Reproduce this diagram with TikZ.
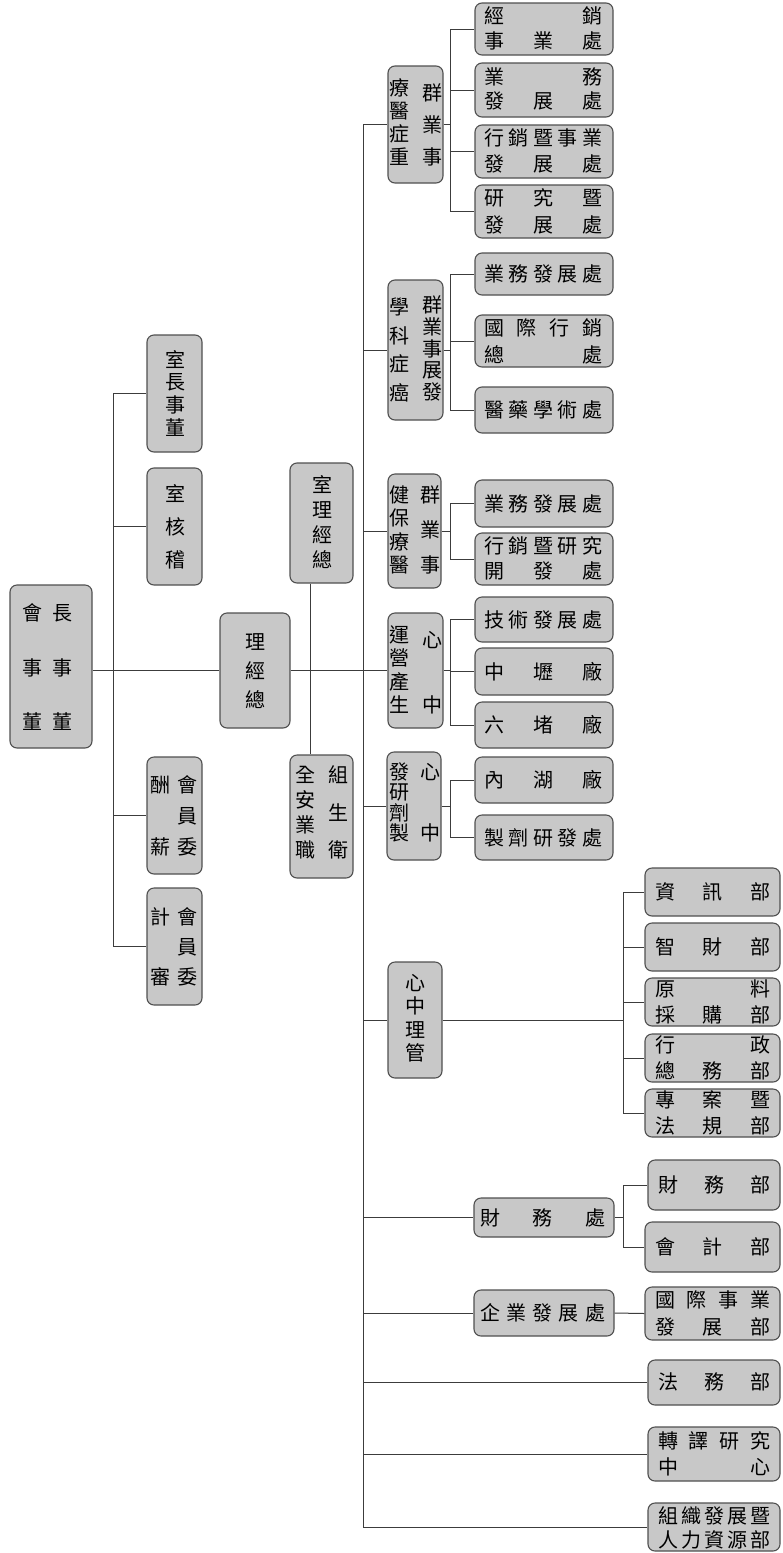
\documentclass[tikz,border=0pt]{standalone}
\usepackage{fontspec}
\newfontfamily\cjk{Noto Sans CJK TC}
\usetikzlibrary{fit,calc}
\definecolor{boxfill}{RGB}{200,200,200}
\definecolor{boxline}{RGB}{80,80,80}
\definecolor{linecol}{RGB}{60,60,60}
\tikzset{
  box/.style={draw=boxline, fill=boxfill, rounded corners=7pt, line width=1.1pt, inner sep=0pt},
  ln/.style={draw=linecol, line width=1pt},
  ch/.style={inner sep=0pt, font=\cjk\fontsize{20}{20}\selectfont, text=black},
}
\newcommand\bx[5]{\node[box, fit={(#2,#3) (#4,#5)}] (#1) {};}
\newcommand\row[7]{%
  \foreach \c [count=\i] in {#7}{%
    \pgfmathsetmacro\myt{(\i-1)/max(#6-1,1)}%
    \node[ch] (#1-\i) at ($(#2,#3)!\myt!(#4,#5)$) {\c};}}
\begin{document}
\begin{tikzpicture}[x=1pt,y=-1pt]
\fill[white] (0,0) rectangle (783,1553);
\useasboundingbox (0,0) rectangle (783,1553);

% ---------- boxes ----------
\bx{root}{10}{585}{92}{748}
\bx{dsz}{147}{335}{202}{452}
\bx{jhs}{147}{468}{202}{585}
\bx{xc}{147}{757}{202}{874}
\bx{sj}{147}{888}{202}{1005}
\bx{zjl}{220}{613}{290}{728}
\bx{zjls}{290}{463}{353}{583}
\bx{zyaq}{290}{755}{353}{878}

\bx{zz}{388}{66}{443}{183}
\bx{ax}{388}{280}{443}{420}
\bx{yl}{388}{474}{441}{588}
\bx{sc}{388}{613}{443}{728}
\bx{zj}{387}{752}{441}{860}
\bx{gl}{388}{962}{442}{1078}
\bx{cw}{474}{1198}{614}{1237}
\bx{qy}{474}{1290}{614}{1336}

\bx{zz1}{475}{3}{613}{55}
\bx{zz2}{475}{63}{613}{117}
\bx{zz3}{475}{125}{613}{178}
\bx{zz4}{475}{185}{613}{238}
\bx{ax1}{475}{253}{613}{295}
\bx{ax2}{475}{315}{613}{367}
\bx{ax3}{475}{387}{613}{433}
\bx{yl1}{475}{480}{613}{527}
\bx{yl2}{475}{533}{613}{585}
\bx{sc1}{475}{597}{613}{642}
\bx{sc2}{475}{648}{613}{695}
\bx{sc3}{475}{702}{613}{748}
\bx{zj1}{475}{757}{613}{803}
\bx{zj2}{475}{815}{613}{860}

\bx{gl1}{645}{868}{780}{916}
\bx{gl2}{645}{923}{780}{971}
\bx{gl3}{645}{978}{780}{1026}
\bx{gl4}{645}{1034}{780}{1082}
\bx{gl5}{645}{1089}{780}{1137}
\bx{cw1}{648}{1160}{780}{1210}
\bx{cw2}{645}{1222}{780}{1272}
\bx{qy1}{645}{1287}{780}{1340}
\bx{fw}{648}{1360}{780}{1405}
\bx{zy}{648}{1427}{780}{1481}
\bx{rl}{648}{1503}{780}{1551}

% ---------- texts ----------
\row{rootA}{33}{722}{33}{613}{3}{董,事,會}
\row{rootB}{62}{722}{62}{613}{3}{董,事,長}
\row{dszT}{175}{428}{175}{360}{4}{董,事,長,室}
\row{jhsT}{175}{560}{175}{494}{3}{稽,核,室}
\row{xcA}{160}{847}{160}{785}{2}{薪,酬}
\row{xcB}{187}{847}{187}{785}{3}{委,員,會}
\row{sjA}{160}{977}{160}{917}{2}{審,計}
\row{sjB}{187}{977}{187}{917}{3}{委,員,會}
\row{zjlT}{255}{700}{255}{642}{3}{總,經,理}
\row{zjlsT}{322}{560}{322}{485}{4}{總,經,理,室}
\row{zyaqA}{305}{850}{305}{775}{4}{職,業,安,全}
\row{zyaqB}{338}{850}{338}{775}{3}{衛,生,組}

\row{zzA}{399}{157}{399}{88}{4}{重,症,醫,療}
\row{zzB}{432}{157}{432}{93}{3}{事,業,群}
\row{axA}{399}{393}{399}{307}{4}{癌,症,科,學}
\row{axB}{432}{392}{432}{305}{5}{發,展,事,業,群}
\row{ylA}{399}{565}{399}{495}{4}{醫,療,保,健}
\row{ylB}{430}{565}{430}{495}{3}{事,業,群}
\row{scA}{399}{705}{399}{635}{4}{生,產,營,運}
\row{scB}{432}{705}{432}{640}{2}{中,心}
\row{zjA}{399}{833}{399}{772}{4}{製,劑,研,發}
\row{zjB}{430}{833}{430}{772}{2}{中,心}
\row{glT}{415}{1053}{415}{983}{4}{管,理,中,心}
\row{cwT}{490}{1218}{595}{1218}{3}{財,務,處}
\row{qyT}{490}{1313}{595}{1313}{5}{企,業,發,展,處}

\row{zz1a}{494}{16}{592}{16}{2}{經,銷}
\row{zz1b}{494}{41}{592}{41}{3}{事,業,處}
\row{zz2a}{494}{77}{592}{77}{2}{業,務}
\row{zz2b}{494}{101}{592}{101}{3}{發,展,處}
\row{zz3a}{494}{138}{592}{138}{5}{行,銷,暨,事,業}
\row{zz3b}{494}{164}{592}{164}{3}{發,展,處}
\row{zz4a}{494}{198}{592}{198}{3}{研,究,暨}
\row{zz4b}{494}{225}{592}{225}{3}{發,展,處}
\row{ax1T}{494}{274}{592}{274}{5}{業,務,發,展,處}
\row{ax2a}{494}{328}{592}{328}{4}{國,際,行,銷}
\row{ax2b}{494}{355}{592}{355}{2}{總,處}
\row{ax3T}{494}{410}{592}{410}{5}{醫,藥,學,術,處}
\row{yl1T}{494}{504}{592}{504}{5}{業,務,發,展,處}
\row{yl2a}{494}{546}{592}{546}{5}{行,銷,暨,研,究}
\row{yl2b}{494}{571}{592}{571}{3}{開,發,處}
\row{sc1T}{494}{620}{592}{620}{5}{技,術,發,展,處}
\row{sc2T}{494}{672}{592}{672}{3}{中,壢,廠}
\row{sc3T}{494}{725}{592}{725}{3}{六,堵,廠}
\row{zj1T}{494}{780}{592}{780}{3}{內,湖,廠}
\row{zj2T}{494}{838}{592}{838}{5}{製,劑,研,發,處}

\row{gl1T}{665}{892}{760}{892}{3}{資,訊,部}
\row{gl2T}{665}{947}{760}{947}{3}{智,財,部}
\row{gl3a}{665}{989}{760}{989}{2}{原,料}
\row{gl3b}{665}{1015}{760}{1015}{3}{採,購,部}
\row{gl4a}{665}{1045}{760}{1045}{2}{行,政}
\row{gl4b}{665}{1071}{760}{1071}{3}{總,務,部}
\row{gl5a}{665}{1100}{760}{1100}{3}{專,案,暨}
\row{gl5b}{665}{1126}{760}{1126}{3}{法,規,部}
\row{cw1T}{668}{1185}{760}{1185}{3}{財,務,部}
\row{cw2T}{665}{1247}{760}{1247}{3}{會,計,部}
\row{qy1a}{665}{1300}{760}{1300}{4}{國,際,事,業}
\row{qy1b}{665}{1327}{760}{1327}{3}{發,展,部}
\row{fwT}{668}{1382}{760}{1382}{3}{法,務,部}
\row{zya}{668}{1441}{760}{1441}{4}{轉,譯,研,究}
\row{zyb}{668}{1467}{760}{1467}{2}{中,心}
\row{rla}{668}{1516}{760}{1516}{5}{組,織,發,展,暨}
\row{rlb}{668}{1540}{760}{1540}{5}{人,力,資,源,部}

% ---------- connectors ----------
\coordinate (busA) at (113,669);
\coordinate (mv) at (363,669);
\coordinate (ub) at (450,0);
\coordinate (lb) at (623,0);

\draw[ln] (root.east |- zjl.west) -- (zjl.west);
\draw[ln] (busA |- dsz.west) -- (busA |- sj.west);
\foreach \n in {dsz,jhs,xc,sj} \draw[ln] (busA |- \n.west) -- (\n.west);
\draw[ln] (zjl.east) -- (sc.west);
\draw[ln] ([xshift=-11.5pt]zjls.south) -- ([xshift=-11.5pt]zyaq.north);

\draw[ln] (mv |- zz.west) -- (mv |- rl.west);
\foreach \n in {zz,ax,yl,zj,gl,cw,qy,fw,zy,rl} \draw[ln] (mv |- \n.west) -- (\n.west);

% upper groups
\draw[ln] (zz.east) -- (ub |- zz.east);
\draw[ln] (ub |- zz1.west) -- (ub |- zz4.west);
\foreach \n in {zz1,zz2,zz3,zz4} \draw[ln] (ub |- \n.west) -- (\n.west);
\draw[ln] (ax.east) -- (ub |- ax.east);
\draw[ln] (ub |- ax1.west) -- (ub |- ax3.west);
\foreach \n in {ax1,ax2,ax3} \draw[ln] (ub |- \n.west) -- (\n.west);
\draw[ln] (yl.east) -- (ub |- yl.east);
\draw[ln] (ub |- yl1.west) -- (ub |- yl2.west);
\foreach \n in {yl1,yl2} \draw[ln] (ub |- \n.west) -- (\n.west);
\draw[ln] (sc.east) -- (ub |- sc.east);
\draw[ln] (ub |- sc1.west) -- (ub |- sc3.west);
\foreach \n in {sc1,sc2,sc3} \draw[ln] (ub |- \n.west) -- (\n.west);
\draw[ln] (zj.east) -- (ub |- zj.east);
\draw[ln] (ub |- zj1.west) -- (ub |- zj2.west);
\foreach \n in {zj1,zj2} \draw[ln] (ub |- \n.west) -- (\n.west);

% lower groups
\draw[ln] (gl.east) -- (lb |- gl.east);
\draw[ln] (lb |- gl1.west) -- (lb |- gl5.west);
\foreach \n in {gl1,gl2,gl3,gl4,gl5} \draw[ln] (lb |- \n.west) -- (\n.west);
\draw[ln] (cw.east) -- (lb |- cw.east);
\draw[ln] (lb |- cw1.west) -- (lb |- cw2.west);
\foreach \n in {cw1,cw2} \draw[ln] (lb |- \n.west) -- (\n.west);
\draw[ln] (qy.east) -- (qy1.west);
\end{tikzpicture}
\end{document}
